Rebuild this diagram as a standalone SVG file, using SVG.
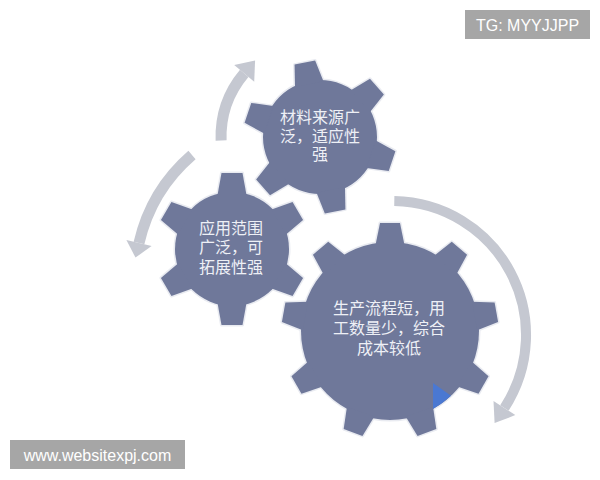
<svg xmlns="http://www.w3.org/2000/svg" xmlns:xlink="http://www.w3.org/1999/xlink" width="600" height="480" viewBox="0 0 600 480">
<style>
use.edge {fill:#6f789a; stroke:#e9ebf1; stroke-width:3; stroke-linejoin:round}
use.fill {fill:#6f789a; stroke:none}
.lbl {font-family:"Noto Sans CJK SC","Noto Sans",sans-serif; font-size:16px; fill:#eef0f6; text-anchor:middle}
.band {fill:none; stroke:#c5c8d1}
.head {fill:#c5c8d1}
.wm rect {fill:#a6a6a6}
.wm text {font-family:"Liberation Sans",Arial,sans-serif; font-size:16px; fill:#ffffff; text-anchor:middle}
</style>
<defs>
<polygon id="t6" points="-14.5,-54 -10.5,-76 10.5,-76 14.5,-54"/>
<polygon id="t9" points="-14.5,-86 -10,-108 10,-108 14.5,-86"/>
<g id="g6">
<circle r="57"/>
<use xlink:href="#t6"/>
<use xlink:href="#t6" transform="rotate(60)"/>
<use xlink:href="#t6" transform="rotate(120)"/>
<use xlink:href="#t6" transform="rotate(180)"/>
<use xlink:href="#t6" transform="rotate(240)"/>
<use xlink:href="#t6" transform="rotate(300)"/>
</g>
<g id="g9">
<circle r="89"/>
<use xlink:href="#t9"/>
<use xlink:href="#t9" transform="rotate(40)"/>
<use xlink:href="#t9" transform="rotate(80)"/>
<use xlink:href="#t9" transform="rotate(120)"/>
<use xlink:href="#t9" transform="rotate(160)"/>
<use xlink:href="#t9" transform="rotate(200)"/>
<use xlink:href="#t9" transform="rotate(240)"/>
<use xlink:href="#t9" transform="rotate(280)"/>
<use xlink:href="#t9" transform="rotate(320)"/>
</g>
</defs>
<rect width="600" height="480" fill="#ffffff"/>
<g id="connectors">
<path class="band" stroke-width="11" d="M221.1,140.5 A99,99 0 0 1 244.2,73.4"/>
<polygon class="head" points="234.2,65 255.1,60.4 254.2,81.8"/>
<path class="band" stroke-width="11" d="M192,155 A165,165 0 0 0 139,243"/>
<polygon class="head" points="126.4,240 135.5,257.6 151.6,246"/>
<path class="band" stroke-width="10" d="M394.3,201 A134,134 0 0 1 504.4,408"/>
<polygon class="head" points="515.3,415.1 494.6,423.1 493.5,400.9"/>
</g>
<g id="gear2">
<g transform="translate(232,249)">
<use xlink:href="#g6" class="edge"/>
<use xlink:href="#g6" class="fill"/>
</g>
<text class="lbl" x="231" y="234">应用范围</text>
<text class="lbl" x="231" y="253">广泛，可</text>
<text class="lbl" x="231" y="273">拓展性强</text>
</g>
<g id="gear1">
<g transform="translate(320,137) rotate(-11.5)">
<use xlink:href="#g6" class="edge"/>
<use xlink:href="#g6" class="fill"/>
</g>
<text class="lbl" x="320" y="123">材料来源广</text>
<text class="lbl" x="320" y="142">泛，适应性</text>
<text class="lbl" x="320" y="160">强</text>
</g>
<g id="gear3">
<g transform="translate(390,331)">
<use xlink:href="#g9" class="edge"/>
<use xlink:href="#g9" class="fill"/>
</g>
<path d="M433,383 L451,395.8 A89,89 0 0 1 433,408.9 Z" fill="#4a78d2"/>
<text class="lbl" x="389" y="314">生产流程短，用</text>
<text class="lbl" x="389" y="334">工数量少，综合</text>
<text class="lbl" x="389" y="354">成本较低</text>
</g>
<g id="wm1" class="wm">
<rect x="465" y="10" width="125" height="29"/>
<text x="527.5" y="31">TG: MYYJJPP</text>
</g>
<g id="wm2" class="wm">
<rect x="10" y="440" width="175" height="29"/>
<text x="97.5" y="461">www.websitexpj.com</text>
</g>
</svg>
